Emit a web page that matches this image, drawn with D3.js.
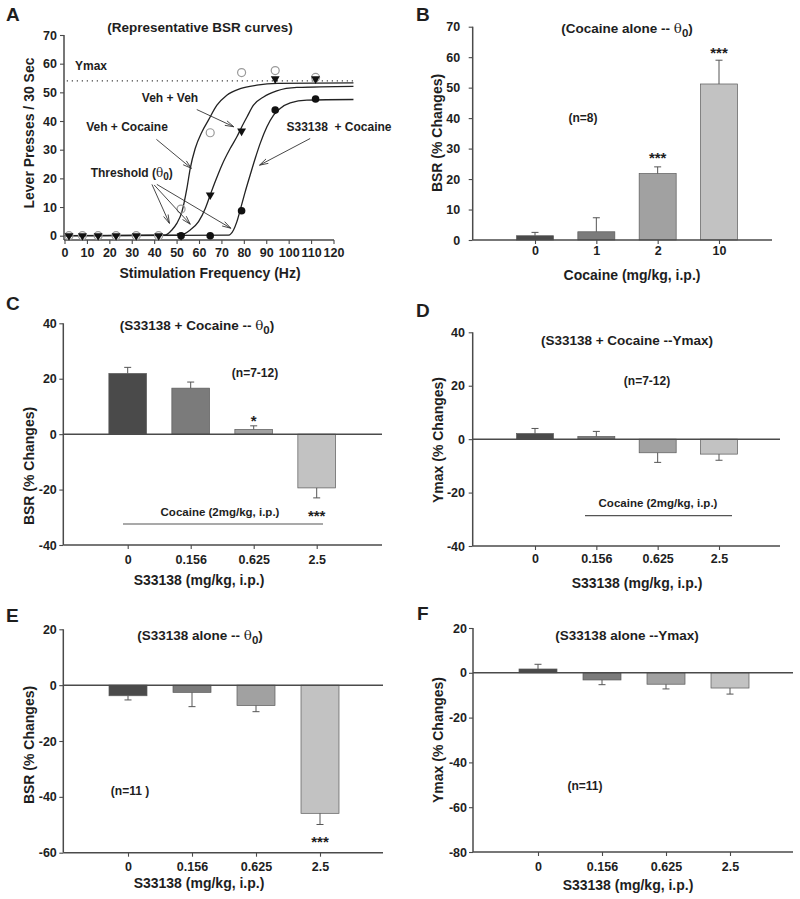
<!DOCTYPE html>
<html><head><meta charset="utf-8">
<script src="https://cdn.jsdelivr.net/npm/d3@7/dist/d3.min.js"></script>
<style>
body{margin:0;background:#fff;}
svg text{font-family:"Liberation Sans",Arial,sans-serif;font-weight:bold;fill:#1e1e1e;white-space:pre;}
</style></head><body>
<svg id="chart" width="800" height="899"></svg>
<script>
// ---------- Panel A data ----------
const freqTicks = [0,10,20,30,40,50,60,70,80,90,100,110,120];
const pressTicks = [0,10,20,30,40,50,60,70];
const ymaxLevel = 54;
const vehCocHz = [2,8,15,23,32,42,52,65,79,94,112];
const vehCocPresses = [0,0,0,0,0,0,9.3,35.9,56.9,57.6,55.2];
const vehVehHz = [2,8,15,23,32,42,52,65,79,94,112];
const vehVehPresses = [0,0,0,0,0,0,0,14.2,36.5,54.7,54.7];
const s33CocHz = [52,65,79,94,112];
const s33CocPresses = [0,0,8.7,43.8,47.7];
// fitted curves
const fitVehCocHz = [0,44.9,47.9,50.1,52.4,54.6,56.1,58.3,61.3,64.2,68,72.4,78.4,85.8,95,128.9];
const fitVehCocPresses = [0,0.2,2,4.3,8.4,16.5,23.5,30.4,36.2,40.3,45.5,49,51.3,52.5,53.1,53.3];
const fitVehVehHz = [0,51.6,56.1,59.8,62.8,65,67.2,70.2,73.9,76.9,79.1,81.4,84.3,88.8,94.7,103.7,128.9];
const fitVehVehPresses = [0,0.2,2,4.9,9.5,14.2,18.8,24.6,30.4,34.5,38,41.4,45.5,48.4,50.5,51.7,52.1];
const fitS33CocHz = [0,73.2,75.4,76.9,78.4,80.6,82.8,85.1,87.3,90.3,93.2,96.2,100.7,108.1,128.9];
const fitS33CocPresses = [0,0.2,2,4.9,9,15.3,21.1,27,32.2,38,42,44.4,46.3,47.3,47.5];

// ---------- Bar panels data ----------
const cocaineDoses = ["0","1","2","10"];
const s33Doses = ["0","0.156","0.625","2.5"];
const barColors = ["#4a4a4a","#7b7b7b","#a1a1a1","#c2c2c2"];

const bValues = [1.4, 2.7, 21.8, 51.2];
const bErrors = [1.1, 4.6, 2.2, 7.8];
const bTicks = [0,10,20,30,40,50,60,70];

const cValues = [21.9, 16.6, 1.7, -19.4];
const cErrors = [2.2, 2.2, 1.3, 3.6];
const cTicks = [-40,-20,0,20,40];

const dValues = [2.1, 1.0, -5.1, -5.6];
const dErrors = [1.9, 1.9, 3.6, 2.3];
const dTicks = [-40,-20,0,20,40];

const eValues = [-3.8, -2.6, -7.3, -45.9];
const eErrors = [1.5, 5.1, 2.2, 4.0];
const eTicks = [-60,-40,-20,0,20];

const fValues = [1.7, -3.2, -5.1, -6.8];
const fErrors = [2.1, 2.1, 2.1, 2.7];
const fTicks = [-80,-60,-40,-20,0,20];

const svg = d3.select("#chart");
const AX = "#4a4a4a";
const AXW = 1.5;

function styleAxis(g, fs){
  g.select(".domain").remove();
  g.selectAll(".tick line").attr("stroke", AX).attr("stroke-width", 1.1);
  g.selectAll(".tick text").attr("font-size", fs).attr("fill", "#1e1e1e")
    .style("font-family", '"Liberation Sans",Arial,sans-serif').style("font-weight", "bold");
}

function thetaTitle(g, x, y, before, fs){
  const t = g.append("text").attr("x", x).attr("y", y).attr("text-anchor", "middle").attr("font-size", fs);
  t.append("tspan").text(before);
  t.append("tspan").text("θ").style("font-family", '"DejaVu Serif","Liberation Serif",serif').style("font-weight","normal");
  t.append("tspan").text("0").attr("dy", 4).attr("font-size", fs - 2);
  t.append("tspan").text(")").attr("dy", -4);
  return t;
}

function addText(g, x, y, s, fs, anchor){
  return g.append("text").attr("x", x).attr("y", y).attr("font-size", fs)
    .attr("text-anchor", anchor || "middle").text(s);
}

function arrow(g, x1, y1, x2, y2){
  g.append("line").attr("x1", x1).attr("y1", y1).attr("x2", x2).attr("y2", y2)
    .attr("stroke", "#333").attr("stroke-width", 0.9);
  const ang = Math.atan2(y2 - y1, x2 - x1), L = 9, w = 0.28;
  [ang + Math.PI - w, ang + Math.PI + w].forEach(a => {
    g.append("line").attr("x1", x2).attr("y1", y2)
      .attr("x2", x2 + L * Math.cos(a)).attr("y2", y2 + L * Math.sin(a))
      .attr("stroke", "#333").attr("stroke-width", 0.9);
  });
}

// ================= Panel A =================
(function(){
  const g = svg.append("g");
  const x = d3.scaleLinear().domain([0,120]).range([64.5,333.5]);
  const y = d3.scaleLinear().domain([0,70]).range([235.7,35]);
  const axisY = 240;

  g.append("g").attr("transform", `translate(64,0)`)
    .call(d3.axisLeft(y).tickValues(pressTicks).tickSize(4).tickPadding(3))
    .call(a => styleAxis(a, 12.5));
  g.append("g").attr("transform", `translate(0,${axisY})`)
    .call(d3.axisBottom(x).tickValues(freqTicks).tickSize(4).tickPadding(4.3))
    .call(a => styleAxis(a, 12.5));
  g.append("line").attr("x1",64).attr("x2",64).attr("y1",35).attr("y2",axisY).attr("stroke",AX).attr("stroke-width",AXW);
  g.append("line").attr("x1",64).attr("x2",x(120)+0.5).attr("y1",axisY).attr("y2",axisY).attr("stroke",AX).attr("stroke-width",AXW);

  // Ymax dotted line
  g.append("line").attr("x1", x(1)).attr("x2", x(128.9)).attr("y1", y(ymaxLevel)).attr("y2", y(ymaxLevel))
    .attr("stroke", "#444").attr("stroke-width", 1.1).attr("stroke-dasharray", "1.3,3.7");

  const line = d3.line().x(d => x(d[0])).y(d => y(d[1])).curve(d3.curveMonotoneX);
  [[fitVehCocHz, fitVehCocPresses],[fitVehVehHz, fitVehVehPresses],[fitS33CocHz, fitS33CocPresses]].forEach(([hx, py]) => {
    g.append("path").datum(hx.map((h, i) => [h, py[i]])).attr("d", line)
      .attr("fill", "none").attr("stroke", "#222").attr("stroke-width", 1.3);
  });

  // open circles (Veh + Cocaine)
  g.selectAll(".oc").data(vehCocHz.map((h,i)=>[h, vehCocPresses[i]])).enter().append("circle")
    .attr("cx", d => x(d[0])).attr("cy", d => y(d[1])).attr("r", 4)
    .attr("fill", "none").attr("stroke", "#9a9a9a").attr("stroke-width", 1.2);
  // triangles (Veh + Veh)
  const tri = d3.symbol().type(d3.symbolTriangle).size(34);
  g.selectAll(".tr").data(vehVehHz.map((h,i)=>[h, vehVehPresses[i]])).enter().append("path")
    .attr("d", tri).attr("transform", d => `translate(${x(d[0])},${y(d[1])}) rotate(180)`)
    .attr("fill", "#111");
  // filled circles (S33138 + Cocaine)
  g.selectAll(".fc").data(s33CocHz.map((h,i)=>[h, s33CocPresses[i]])).enter().append("circle")
    .attr("cx", d => x(d[0])).attr("cy", d => y(d[1])).attr("r", 3.8).attr("fill", "#111");

  // annotations
  addText(g, 75, 70, "Ymax", 12, "start");
  addText(g, 170, 102, "Veh + Veh", 12);
  addText(g, 127, 131, "Veh + Cocaine", 12);
  addText(g, 339, 131, "S33138  + Cocaine", 12);
  const th = g.append("text").attr("x", 90.7).attr("y", 177).attr("font-size", 12);
  th.append("tspan").text("Threshold (");
  th.append("tspan").text("θ").style("font-family",'"DejaVu Serif","Liberation Serif",serif').style("font-weight","normal");
  th.append("tspan").text("0").attr("dy", 3).attr("font-size", 10);
  th.append("tspan").text(")").attr("dy", -3);

  arrow(g, x(59), y(44), x(75.5), y(38));
  arrow(g, x(41), y(33.6), x(56.6), y(23.5));
  arrow(g, x(109.6), y(33.9), x(87), y(24.6));
  arrow(g, x(39), y(17.9), x(46.8), y(4.3));
  arrow(g, x(40), y(17.7), x(56.1), y(4));
  arrow(g, x(41.2), y(17.9), x(74.2), y(2.6));

  addText(g, 200, 31.5, "(Representative BSR curves)", 13.5);
  addText(g, 210, 278, "Stimulation Frequency (Hz)", 14);
  g.append("text").attr("transform", "translate(33.5,133) rotate(-90)").attr("text-anchor","middle")
    .attr("font-size", 14).text("Lever Presses / 30 Sec");
  addText(g, 6, 20.5, "A", 19, "start");
})();

// ================= Bar panels =================
function drawBarPanel(p, cats, values, errors, ticks){
  const g = svg.append("g");
  const y = d3.scaleLinear().domain(p.yDomain).range([p.yBottom, p.yTop]);
  const x = d3.scalePoint().domain(cats).range([p.c0, p.c3]);
  const bw = p.barW;

  g.append("g").attr("transform", `translate(${p.axisX},0)`)
    .call(d3.axisLeft(y).tickValues(ticks).tickSize(4).tickPadding(p.yPad).tickFormat(d => String(d)))
    .call(a => styleAxis(a, 12.5));
  g.append("g").attr("transform", `translate(0,${p.yBottom})`)
    .call(d3.axisBottom(x).tickSize(4).tickPadding(p.xPad))
    .call(a => styleAxis(a, 12.5));

  // bars
  g.selectAll(".bar").data(values).enter().append("rect")
    .attr("x", (d,i) => x(cats[i]) - bw/2)
    .attr("width", bw)
    .attr("y", d => y(Math.max(0, d)))
    .attr("height", d => Math.abs(y(d) - y(0)))
    .attr("fill", (d,i) => barColors[i])
    .attr("stroke", "#5a5a5a").attr("stroke-width", 0.7);

  // error bars (one-sided)
  values.forEach((v, i) => {
    const cx = x(cats[i]);
    const end = v >= 0 ? v + errors[i] : v - errors[i];
    g.append("line").attr("x1", cx).attr("x2", cx).attr("y1", y(v)).attr("y2", y(end))
      .attr("stroke", "#555").attr("stroke-width", 1);
    g.append("line").attr("x1", cx - 3.5).attr("x2", cx + 3.5).attr("y1", y(end)).attr("y2", y(end))
      .attr("stroke", "#555").attr("stroke-width", 1);
  });

  // axis lines
  g.append("line").attr("x1", p.axisX).attr("x2", p.axisX).attr("y1", p.yTop).attr("y2", p.yBottom)
    .attr("stroke", AX).attr("stroke-width", AXW);
  g.append("line").attr("x1", p.axisX).attr("x2", p.right).attr("y1", p.yBottom).attr("y2", p.yBottom)
    .attr("stroke", AX).attr("stroke-width", AXW);
  if (p.yDomain[0] < 0) {
    g.append("line").attr("x1", p.axisX).attr("x2", p.right).attr("y1", y(0)).attr("y2", y(0))
      .attr("stroke", AX).attr("stroke-width", AXW);
  }
  return {g, x, y};
}

// ----- B -----
(function(){
  const {g, x, y} = drawBarPanel({axisX:472.7, right:772, yDomain:[0,70], yBottom:240, yTop:26.7,
    c0:535, c3:719, barW:37, yPad:8.5, xPad:2.5}, cocaineDoses, bValues, bErrors, bTicks);
  thetaTitle(g, 627, 33, "(Cocaine alone -- ", 13.5);
  addText(g, 583, 122.3, "(n=8)", 12);
  addText(g, x("2"), 162.5, "***", 15);
  addText(g, x("10"), 57.5, "***", 15);
  addText(g, 632, 280, "Cocaine (mg/kg, i.p.)", 14);
  g.append("text").attr("transform", "translate(442,133) rotate(-90)").attr("text-anchor","middle")
    .attr("font-size", 14).text("BSR (% Changes)");
  addText(g, 416, 20.5, "B", 19, "start");
})();

// ----- C -----
(function(){
  const {g, x, y} = drawBarPanel({axisX:63.3, right:382, yDomain:[-40,40], yBottom:545, yTop:323.3,
    c0:127.7, c3:316.7, barW:37.7, yPad:2.5, xPad:6}, s33Doses, cValues, cErrors, cTicks);
  thetaTitle(g, 197, 330, "(S33138 + Cocaine -- ", 13.5);
  addText(g, 255, 376.7, "(n=7-12)", 12);
  addText(g, x("0.625"), 425.5, "*", 15);
  addText(g, x("2.5"), 520.5, "***", 15);
  addText(g, 220, 515.7, "Cocaine (2mg/kg, i.p.)", 11.5);
  g.append("line").attr("x1", 123).attr("x2", 323).attr("y1", 524).attr("y2", 524).attr("stroke", "#555").attr("stroke-width", 1.2);
  addText(g, 199, 585, "S33138 (mg/kg, i.p.)", 14);
  g.append("text").attr("transform", "translate(33.5,466) rotate(-90)").attr("text-anchor","middle")
    .attr("font-size", 14).text("BSR (% Changes)");
  addText(g, 6, 310, "C", 19, "start");
})();

// ----- D -----
(function(){
  const {g, x, y} = drawBarPanel({axisX:472.7, right:780, yDomain:[-40,40], yBottom:546, yTop:332.3,
    c0:535, c3:719, barW:37, yPad:3.7, xPad:4.6}, s33Doses, dValues, dErrors, dTicks);
  addText(g, 627, 345, "(S33138 + Cocaine --Ymax)", 13.5);
  addText(g, 647, 385, "(n=7-12)", 12);
  addText(g, 658, 506.7, "Cocaine (2mg/kg, i.p.)", 11.5);
  g.append("line").attr("x1", 585).attr("x2", 732).attr("y1", 515.7).attr("y2", 515.7).attr("stroke", "#555").attr("stroke-width", 1.2);
  addText(g, 637, 588, "S33138 (mg/kg, i.p.)", 14);
  g.append("text").attr("transform", "translate(443,440) rotate(-90)").attr("text-anchor","middle")
    .attr("font-size", 14).text("Ymax (% Changes)");
  addText(g, 416, 316.5, "D", 19, "start");
})();

// ----- E -----
(function(){
  const {g, x, y} = drawBarPanel({axisX:63.3, right:383, yDomain:[-60,20], yBottom:852.7, yTop:629.3,
    c0:128, c3:320, barW:38, yPad:2.5, xPad:5.6}, s33Doses, eValues, eErrors, eTicks);
  thetaTitle(g, 200, 640, "(S33138 alone -- ", 13.5);
  addText(g, 130, 795, "(n=11 )", 12);
  addText(g, x("2.5"), 846.5, "***", 15);
  addText(g, 199, 887.7, "S33138 (mg/kg, i.p.)", 14);
  g.append("text").attr("transform", "translate(33.5,745) rotate(-90)").attr("text-anchor","middle")
    .attr("font-size", 14).text("BSR (% Changes)");
  addText(g, 6, 621.5, "E", 19, "start");
})();

// ----- F -----
(function(){
  const {g, x, y} = drawBarPanel({axisX:473, right:793, yDomain:[-80,20], yBottom:852, yTop:628,
    c0:538, c3:730, barW:38, yPad:2, xPad:6.3}, s33Doses, fValues, fErrors, fTicks);
  addText(g, 627, 640, "(S33138 alone --Ymax)", 13.5);
  addText(g, 585, 790, "(n=11)", 12);
  addText(g, 628, 890, "S33138 (mg/kg, i.p.)", 14);
  g.append("text").attr("transform", "translate(443,740) rotate(-90)").attr("text-anchor","middle")
    .attr("font-size", 14).text("Ymax (% Changes)");
  addText(g, 417, 620, "F", 19, "start");
})();
</script>
</body></html>
